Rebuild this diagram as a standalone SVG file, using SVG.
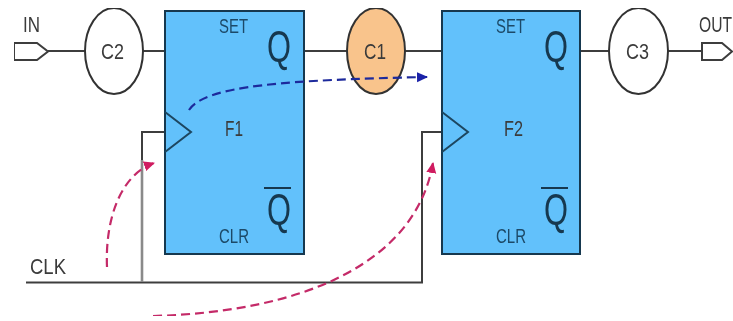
<svg xmlns="http://www.w3.org/2000/svg" width="733" height="321" viewBox="0 0 733 321">
<defs>
<style>
.ln{fill:none;stroke:#3c3c3c;stroke-width:2}
.ff{fill:#62c1fb;stroke:#16384f;stroke-width:2}
.ck{fill:none;stroke:#1d4660;stroke-width:2}
.c{fill:#fff;stroke:#333;stroke-width:2}
.t{font-family:"Liberation Sans",Arial,sans-serif;font-size:22px;fill:#3a3a3a}
.s{font-family:"Liberation Sans",Arial,sans-serif;font-size:21px;fill:#1d4a68}
.q{font-family:"Liberation Sans",Arial,sans-serif;font-size:44px;fill:#16384f}
.pk{fill:none;stroke:#c42a68;stroke-width:2.200;stroke-dasharray:9 5}
.bl{fill:none;stroke:#1f2a9c;stroke-width:2.200;stroke-dasharray:9 5}
</style>
<marker id="ap" markerUnits="userSpaceOnUse" markerWidth="12" markerHeight="12" refX="10" refY="5" orient="auto"><path d="M0 0L11 5L0 10Z" fill="#d01a60"/></marker>
<marker id="ab" markerUnits="userSpaceOnUse" markerWidth="12" markerHeight="12" refX="10" refY="5" orient="auto"><path d="M0 0L11 5L0 10Z" fill="#1a22a8"/></marker>
<filter id="soft" x="0" y="0" width="100%" height="100%"><feGaussianBlur stdDeviation="0.55"/></filter>
</defs>
<rect width="733" height="321" fill="#fff"/>
<g filter="url(#soft)">
<g id="connectors">
<path class="ln" d="M48 51H85M143 51H165M304 51H347M405 51H442M580 51H609M668 51H702"/>
<path class="ln" d="M26 282.500H422V132H442"/>
<path d="M142 282V132H165" fill="none" stroke="#3c3c3c" stroke-width="2"/>
<path d="M142 160V282" fill="none" stroke="#8a8a8a" stroke-width="2.600"/>
</g>
<g id="in"><polygon class="ln" points="14,43 37,43 48,51.500 37,60 14,60"/><text class="t" x="23" y="32" textLength="17" lengthAdjust="spacingAndGlyphs">IN</text></g>
<g id="out"><polygon class="ln" points="702,43 722,43 732,51.500 722,60 702,60"/><text class="t" transform="translate(699 32) scale(.71 1)">OUT</text></g>
<g id="c2"><ellipse class="c" cx="114" cy="51" rx="29" ry="43"/><text class="t" x="101" y="59" textLength="23" lengthAdjust="spacingAndGlyphs">C2</text></g>
<g id="c1"><ellipse class="c" style="fill:#f9c48c" cx="376" cy="51" rx="29" ry="43"/><text class="t" x="364" y="59" textLength="22" lengthAdjust="spacingAndGlyphs">C1</text></g>
<g id="c3"><ellipse class="c" cx="638.500" cy="51" rx="29.500" ry="43"/><text class="t" x="626" y="59" textLength="23" lengthAdjust="spacingAndGlyphs">C3</text></g>
<g id="f1">
<rect class="ff" x="165" y="11" width="139" height="243"/>
<polyline class="ck" points="165,112 191,132 165,152"/>
<text class="s" x="219" y="33" textLength="29" lengthAdjust="spacingAndGlyphs">SET</text>
<text class="t" x="225" y="136" textLength="18" lengthAdjust="spacingAndGlyphs">F1</text>
<text class="s" x="219" y="243" textLength="30" lengthAdjust="spacingAndGlyphs">CLR</text>
<text class="q" x="267" y="62" textLength="24" lengthAdjust="spacingAndGlyphs">Q</text>
<text class="q" x="267" y="225" textLength="24" lengthAdjust="spacingAndGlyphs">Q</text>
<path d="M264 188H291" stroke="#16384f" stroke-width="2" fill="none"/>
</g>
<g id="f2">
<rect class="ff" x="442" y="11" width="138" height="243"/>
<polyline class="ck" points="442,112 468,132 442,152"/>
<text class="s" x="496" y="33" textLength="29" lengthAdjust="spacingAndGlyphs">SET</text>
<text class="t" x="504" y="136" textLength="19" lengthAdjust="spacingAndGlyphs">F2</text>
<text class="s" x="496" y="243" textLength="30" lengthAdjust="spacingAndGlyphs">CLR</text>
<text class="q" x="544" y="62" textLength="24" lengthAdjust="spacingAndGlyphs">Q</text>
<text class="q" x="544" y="225" textLength="24" lengthAdjust="spacingAndGlyphs">Q</text>
<path d="M541 188H568" stroke="#16384f" stroke-width="2" fill="none"/>
</g>
<text class="t" x="30" y="274" textLength="36" lengthAdjust="spacingAndGlyphs">CLK</text>
<g id="flows">
<path class="bl" marker-end="url(#ab)" d="M189 110C205 85 290 80 427 77"/>
<path class="pk" marker-end="url(#ap)" d="M107 267C105 220 120 175 154 163"/>
<path class="pk" marker-end="url(#ap)" d="M153 316C300 312 415 265 433 163"/>
</g>
</g>
</svg>
